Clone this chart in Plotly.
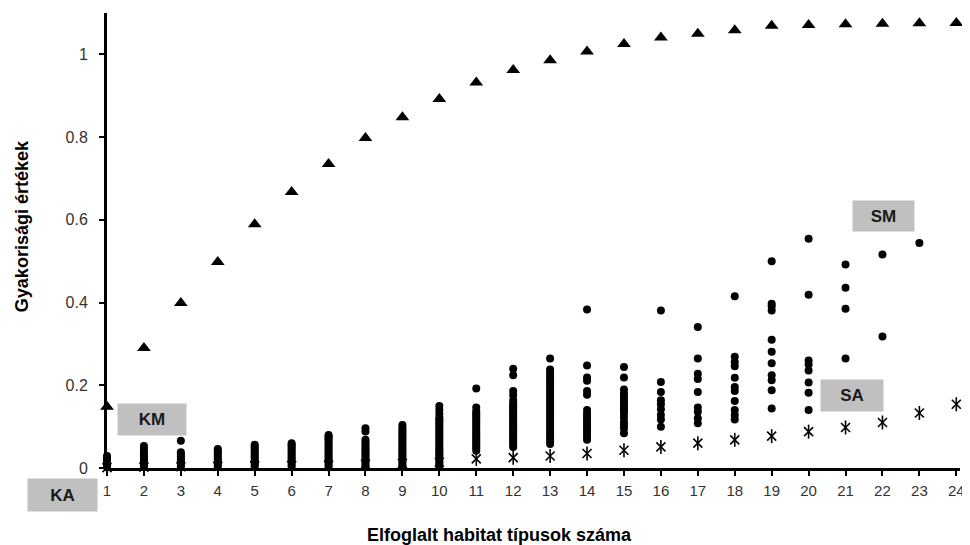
import plotly.graph_objects as go

# Number of occupied habitat types (x categories)
habitats = [1, 2, 3, 4, 5, 6, 7, 8, 9, 10, 11, 12, 13, 14, 15, 16, 17, 18, 19, 20, 21, 22, 23, 24]

# Triangle series (maximum values)
triangle_vals = [0.148, 0.29, 0.399, 0.498, 0.589, 0.667, 0.735, 0.798, 0.848, 0.892, 0.932, 0.962,
                 0.986, 1.007, 1.025, 1.041, 1.05, 1.058, 1.069, 1.071, 1.073, 1.074, 1.075, 1.076]

# Asterisk series (averages)
asterisk_vals = [0.001, 0.002, 0.003, 0.004, 0.005, 0.006, 0.007, 0.009, 0.011, 0.014, 0.022, 0.025,
                 0.029, 0.035, 0.043, 0.051, 0.06, 0.068, 0.077, 0.088, 0.098, 0.11, 0.133, 0.154]

# Dot values per habitat count (species values)
dots_1 = [0.003, 0.008, 0.013, 0.018, 0.023, 0.029]
dots_2 = [0.003, 0.008, 0.013, 0.018, 0.023, 0.028, 0.033, 0.038, 0.046, 0.053]
dots_3 = [0.003, 0.008, 0.013, 0.018, 0.023, 0.028, 0.033, 0.038, 0.066]
dots_4 = [0.003, 0.008, 0.013, 0.018, 0.023, 0.028, 0.033, 0.038, 0.042, 0.046]
dots_5 = [0.003, 0.008, 0.013, 0.018, 0.023, 0.028, 0.033, 0.038, 0.043, 0.048, 0.052, 0.056]
dots_6 = [0.003, 0.008, 0.013, 0.018, 0.023, 0.028, 0.033, 0.038, 0.043, 0.048, 0.052, 0.056, 0.06]
dots_7 = [0.003, 0.008, 0.013, 0.018, 0.023, 0.028, 0.033, 0.038, 0.043, 0.048, 0.053, 0.058, 0.063,
          0.068, 0.072, 0.076, 0.08]
dots_8 = [0.003, 0.008, 0.013, 0.018, 0.023, 0.028, 0.033, 0.038, 0.043, 0.048, 0.053, 0.058, 0.063,
          0.068, 0.088, 0.096]
dots_9 = [0.003, 0.008, 0.013, 0.018, 0.023, 0.028, 0.033, 0.038, 0.043, 0.048, 0.053, 0.058, 0.063,
          0.068, 0.073, 0.078, 0.083, 0.088, 0.093, 0.098, 0.104]
dots_10 = [0.003, 0.008, 0.013, 0.018, 0.023, 0.028, 0.033, 0.038, 0.043, 0.048, 0.053, 0.058, 0.063,
           0.068, 0.073, 0.078, 0.083, 0.088, 0.093, 0.098, 0.103, 0.108, 0.113, 0.118, 0.122, 0.132,
           0.141, 0.15]
dots_11 = [0.042, 0.047, 0.052, 0.057, 0.062, 0.067, 0.072, 0.077, 0.082, 0.087, 0.092, 0.097, 0.102,
           0.107, 0.112, 0.117, 0.122, 0.127, 0.132, 0.137, 0.146, 0.192]
dots_12 = [0.051, 0.056, 0.061, 0.066, 0.071, 0.076, 0.081, 0.086, 0.091, 0.096, 0.101, 0.106, 0.111,
           0.116, 0.121, 0.126, 0.131, 0.136, 0.141, 0.146, 0.151, 0.156, 0.164, 0.176, 0.186, 0.224,
           0.24]
dots_13 = [0.058, 0.065, 0.072, 0.079, 0.086, 0.093, 0.1, 0.107, 0.114, 0.121, 0.128, 0.135, 0.142,
           0.149, 0.156, 0.163, 0.17, 0.177, 0.184, 0.191, 0.198, 0.205, 0.212, 0.219, 0.226, 0.232,
           0.238, 0.265]
dots_14 = [0.068, 0.075, 0.082, 0.089, 0.096, 0.103, 0.11, 0.117, 0.124, 0.131, 0.14, 0.177, 0.186,
           0.211, 0.219, 0.248, 0.383]
dots_15 = [0.084, 0.096, 0.104, 0.112, 0.122, 0.132, 0.138, 0.144, 0.15, 0.156, 0.162, 0.168, 0.174,
           0.18, 0.19, 0.219, 0.244]
dots_16 = [0.1, 0.117, 0.128, 0.142, 0.154, 0.164, 0.184, 0.208, 0.381]
dots_17 = [0.108, 0.12, 0.136, 0.146, 0.184, 0.215, 0.228, 0.265, 0.341]
dots_18 = [0.117, 0.128, 0.14, 0.162, 0.186, 0.196, 0.218, 0.246, 0.256, 0.269, 0.415]
dots_19 = [0.144, 0.188, 0.212, 0.224, 0.253, 0.281, 0.31, 0.381, 0.391, 0.397, 0.5]
dots_20 = [0.14, 0.182, 0.207, 0.236, 0.25, 0.26, 0.419, 0.554]
dots_21 = [0.265, 0.385, 0.436, 0.492]
dots_22 = [0.318, 0.516]
dots_23 = [0.544]
dots_24 = []

dot_columns = [dots_1, dots_2, dots_3, dots_4, dots_5, dots_6, dots_7, dots_8, dots_9, dots_10,
               dots_11, dots_12, dots_13, dots_14, dots_15, dots_16, dots_17, dots_18, dots_19,
               dots_20, dots_21, dots_22, dots_23, dots_24]

y_tick_vals = [0, 0.2, 0.4, 0.6, 0.8, 1]
y_tick_text = ["0", "0.2", "0.4", "0.6", "0.8", "1"]
x_tick_text = [str(h) for h in habitats]

x_title = "Elfoglalt habitat típusok száma"
y_title = "Gyakorisági értékek"
box_labels = ["KM", "KA", "SA", "SM"]

dot_x, dot_y = [], []
for h, col in zip(habitats, dot_columns):
    for v in col:
        dot_x.append(h)
        dot_y.append(v)

FONT = "Liberation Sans, Arial, sans-serif"

fig = go.Figure()
fig.add_trace(go.Scatter(x=dot_x, y=dot_y, mode="markers", cliponaxis=False,
                         marker=dict(symbol="circle", size=8, color="black"), showlegend=False))
fig.add_trace(go.Scatter(x=habitats, y=asterisk_vals, mode="markers", cliponaxis=False,
                         marker=dict(symbol="x-thin-open", size=9, color="black",
                                     line=dict(width=1.6, color="black")), showlegend=False))
fig.add_trace(go.Scatter(x=habitats, y=asterisk_vals, mode="markers", cliponaxis=False,
                         marker=dict(symbol="line-ns-open", size=10, color="black",
                                     line=dict(width=1.6, color="black")), showlegend=False))
fig.add_trace(go.Scatter(x=habitats, y=triangle_vals, mode="markers", cliponaxis=False,
                         marker=dict(symbol="triangle-up", size=12, color="black"), showlegend=False))

axis_common = dict(showgrid=False, zeroline=False, showline=True, linecolor="black", linewidth=3,
                   ticks="outside", ticklen=5, tickwidth=2, tickcolor="black",
                   ticklabeloverflow="allow")

fig.update_xaxes(range=[1, 24.1], tickmode="array", tickvals=habitats, ticktext=x_tick_text,
                 ticklabelstandoff=2,
                 tickfont=dict(family=FONT, size=15, color="#333333"), **axis_common)
fig.update_yaxes(range=[0, 1.1], tickmode="array", tickvals=y_tick_vals, ticktext=y_tick_text,
                 ticklabelstandoff=8,
                 tickfont=dict(family=FONT, size=16, color="#333333"), **axis_common)

annotations = [
    dict(text="<b>%s</b>" % x_title, xref="paper", yref="paper", x=0.4596, y=-0.147,
         showarrow=False, xanchor="center", yanchor="middle",
         font=dict(family=FONT, size=18, color="black")),
    dict(text="<b>%s</b>" % y_title, xref="paper", yref="paper", x=-0.0994, y=0.532,
         showarrow=False, xanchor="center", yanchor="middle", textangle=-90,
         font=dict(family=FONT, size=18, color="black")),
]
box_pos = [(0.0523, 0.1066, 68, 31), (-0.052, -0.0593, 69, 32), (0.8737, 0.1604, 62, 31),
           (0.9105, 0.5538, 61, 30)]
for lab, (bx, by, bw, bh) in zip(box_labels, box_pos):
    annotations.append(dict(text="<b>%s</b>" % lab, xref="paper", yref="paper", x=bx, y=by,
                            showarrow=False, xanchor="center", yanchor="middle",
                            width=bw, height=bh, bgcolor="#c0c0c0", borderpad=0,
                            font=dict(family=FONT, size=17, color="#1a1a1a")))

# page body has an 8px margin, so the figure is 8px smaller to keep the plot in place
fig.update_layout(width=962, height=537, autosize=False,
                  margin=dict(l=99, r=6, t=5, b=77),
                  plot_bgcolor="white", paper_bgcolor="white",
                  annotations=annotations)

fig.write_html("out.html")
